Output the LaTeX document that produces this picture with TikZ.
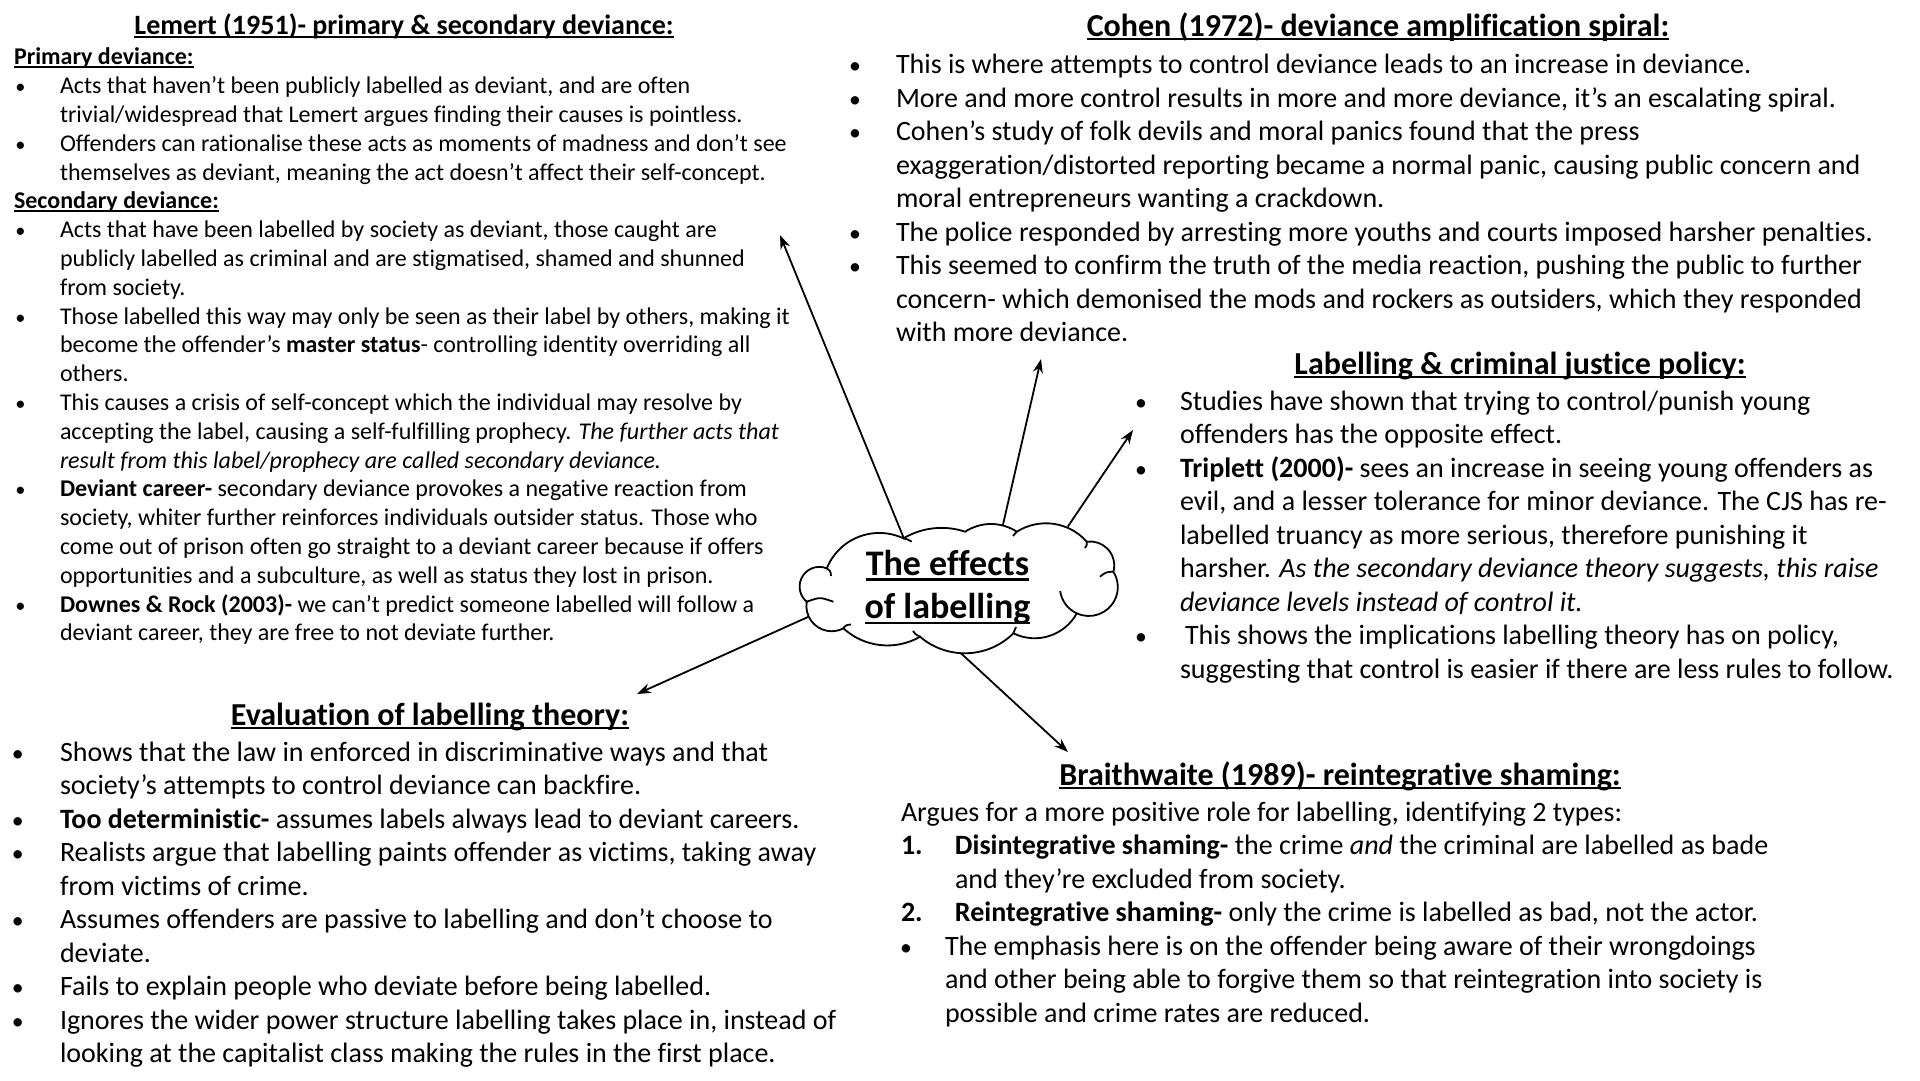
\documentclass[tikz,border=0pt]{standalone}
\usepackage{fontspec}
\usepackage{graphicx}
\setmainfont{Carlito}[Ligatures=CommonOff]
\usetikzlibrary{arrows.meta,calc}
\pgfdeclarelayer{cloudlayer}
\pgfdeclarelayer{textlayer}
\pgfsetlayers{main,cloudlayer,textlayer}
\newsavebox\ulbox
\newcommand\ulx[3]{\sbox\ulbox{#3}\rlap{\rule[-#1]{\wd\ulbox}{#2}}\usebox\ulbox}
\newlength\bind \newlength\bofs
\newcommand\B[1]{\makebox[\bind][l]{\hspace*{\bofs}\scalebox{0.85}{\textbullet}}#1}
\newcommand\C[1]{\hspace*{\bind}#1}
\newcommand\Nm[2]{\makebox[54pt][l]{\textbf{#1}}#2}
\tikzset{
  sec/.style={anchor=north west, inner sep=0pt, outer sep=0pt},
  ttl/.style={anchor=base, inner sep=0pt, font=\fontsize{32}{38}\selectfont\bfseries},
  smallbody/.style={font=\fontsize{24}{28.8}\selectfont},
  bigbody/.style={font=\fontsize{28}{33.5}\selectfont},
  arr/.style={-{Stealth[length=14pt,width=10pt]}, line width=1.8pt},
  cloudline/.style={line width=1.8pt, draw=black, fill=white},
  curl/.style={line width=1.8pt},
  ctext/.style={align=center, inner sep=0pt, font=\fontsize{36}{43.3}\selectfont\bfseries},
}
\begin{document}
\begin{tikzpicture}[x=1pt,y=-1pt]
\fill[white] (0,0) rectangle (1920,1080);
\path[use as bounding box] (0,0) rectangle (1920,1080);

% ---------- Lemert ----------
\node[ttl, font=\fontsize{28}{33}\selectfont\bfseries] (lemT) at (404,34)
  {\ulx{3.5pt}{1.8pt}{Lemert (1951)- primary \& secondary deviance:}};
\node[sec, smallbody] (lemert) at (14,44.8) {\setlength\bind{46pt}\setlength\bofs{1.5pt}%
\begin{tabular}{@{}l@{}}
\textbf{\ulx{3pt}{1.6pt}{Primary deviance:}}\\
\B{Acts that haven’t been publicly labelled as deviant, and are often}\\
\C{trivial/widespread that Lemert argues finding their causes is pointless.}\\
\B{Offenders can rationalise these acts as moments of madness and don’t see}\\
\C{themselves as deviant, meaning the act doesn’t affect their self-concept.}\\
\textbf{\ulx{3pt}{1.6pt}{Secondary deviance:}}\\
\B{Acts that have been labelled by society as deviant, those caught are}\\
\C{publicly labelled as criminal and are stigmatised, shamed and shunned}\\
\C{from society.}\\
\B{Those labelled this way may only be seen as their label by others, making it}\\
\C{become the offender’s \textbf{master status}- controlling identity overriding all}\\
\C{others.}\\
\B{This causes a crisis of self-concept which the individual may resolve by}\\
\C{accepting the label, causing a self-fulfilling prophecy. \textit{The further acts that}}\\
\C{\textit{result from this label/prophecy are called secondary deviance.}}\\
\B{\textbf{Deviant career-} secondary deviance provokes a negative reaction from}\\
\C{society, whiter further reinforces individuals outsider status. Those who}\\
\C{come out of prison often go straight to a deviant career because if offers}\\
\C{opportunities and a subculture, as well as status they lost in prison.}\\
\B{\textbf{Downes \& Rock (2003)-} we can’t predict someone labelled will follow a}\\
\C{deviant career, they are free to not deviate further.}
\end{tabular}};

% ---------- Cohen ----------
\node[ttl] (cohT) at (1378,36)
  {\ulx{3.5pt}{2pt}{Cohen (1972)- deviance amplification spiral:}};
\node[sec, bigbody] (cohen) at (855,50.5) {\setlength\bind{41pt}\setlength\bofs{-6pt}%
\begin{tabular}{@{}l@{}}
\B{This is where attempts to control deviance leads to an increase in deviance.}\\
\B{More and more control results in more and more deviance, it’s an escalating spiral.}\\
\B{Cohen’s study of folk devils and moral panics found that the press}\\
\C{exaggeration/distorted reporting became a normal panic, causing public concern and}\\
\C{moral entrepreneurs wanting a crackdown.}\\
\B{The police responded by arresting more youths and courts imposed harsher penalties.}\\
\B{This seemed to confirm the truth of the media reaction, pushing the public to further}\\
\C{concern- which demonised the mods and rockers as outsiders, which they responded}\\
\C{with more deviance.}
\end{tabular}};

% ---------- Labelling & CJ policy ----------
\node[ttl] (cjT) at (1520,374)
  {\ulx{3.5pt}{2pt}{Labelling \& criminal justice policy:}};
\node[sec, bigbody] (cjp) at (1139,386.7) {\setlength\bind{41pt}\setlength\bofs{-4pt}%
\begin{tabular}{@{}l@{}}
\B{Studies have shown that trying to control/punish young}\\
\C{offenders has the opposite effect.}\\
\B{\textbf{Triplett (2000)-} sees an increase in seeing young offenders as}\\
\C{evil, and a lesser tolerance for minor deviance. The CJS has re-}\\
\C{labelled truancy as more serious, therefore punishing it}\\
\C{harsher. \textit{As the secondary deviance theory suggests, this raise}}\\
\C{\textit{deviance levels instead of control it.}}\\
\B{\hspace*{5pt}This shows the implications labelling theory has on policy,}\\
\C{suggesting that control is easier if there are less rules to follow.}
\end{tabular}};

% ---------- Evaluation ----------
\node[ttl] (evT) at (430,725)
  {\ulx{3.5pt}{2pt}{Evaluation of labelling theory:}};
\node[sec, bigbody] (evalu) at (14,738) {\setlength\bind{46pt}\setlength\bofs{-2pt}%
\begin{tabular}{@{}l@{}}
\B{Shows that the law in enforced in discriminative ways and that}\\
\C{society’s attempts to control deviance can backfire.}\\
\B{\textbf{Too deterministic-} assumes labels always lead to deviant careers.}\\
\B{Realists argue that labelling paints offender as victims, taking away}\\
\C{from victims of crime.}\\
\B{Assumes offenders are passive to labelling and don’t choose to}\\
\C{deviate.}\\
\B{Fails to explain people who deviate before being labelled.}\\
\B{Ignores the wider power structure labelling takes place in, instead of}\\
\C{looking at the capitalist class making the rules in the first place.}
\end{tabular}};

% ---------- Braithwaite ----------
\node[ttl] (brT) at (1340,785)
  {\ulx{3.5pt}{2pt}{Braithwaite (1989)- reintegrative shaming:}};
\node[sec, bigbody] (braith) at (901,798) {\setlength\bind{44pt}\setlength\bofs{-1pt}%
\begin{tabular}{@{}l@{}}
Argues for a more positive role for labelling, identifying 2 types:\\
\Nm{1.}{\textbf{Disintegrative shaming-} the crime \textit{and} the criminal are labelled as bade}\\
\hspace*{54pt}and they’re excluded from society.\\
\Nm{2.}{\textbf{Reintegrative shaming-} only the crime is labelled as bad, not the actor.}\\
\B{The emphasis here is on the offender being aware of their wrongdoings}\\
\C{and other being able to forgive them so that reintegration into society is}\\
\C{possible and crime rates are reduced.}
\end{tabular}};

% ---------- Cloud text (base = baseline of last line) ----------
\begin{pgfonlayer}{textlayer}
\node[ctext, anchor=base] (cloud) at (947.5,618.3)
  {\ulx{6pt}{2.6pt}{The effects}\\\ulx{6pt}{2.6pt}{of labelling}};
\end{pgfonlayer}

% ---------- Arrows ----------
\coordinate (t1) at (780,235);
\coordinate (t2) at (1041,359);
\coordinate (t3) at (1133,430);
\coordinate (t4) at (637,694);
\coordinate (t5) at (1068,752);
\draw[arr] ($(cloud.base)+(-42.7,-77.6)$) -- (t1);
\draw[arr] ($(cloud.base)+(54.9,-91.1)$) -- (t2);
\draw[arr] ($(cloud.base)+(120.3,-91.7)$) -- (t3);
\draw[arr] ($(cloud.base)+(-138.9,-1.6)$) -- (t4);
\draw[arr] ($(cloud.base)+(11.3,33)$) -- (t5);

% ---------- Cloud outline ----------
\begin{pgfonlayer}{cloudlayer}
\path[cloudline] (826.7,568.3)
 arc[start angle=-68, end angle=-230.2, radius=19.7]
 arc[start angle=189.6, end angle=62.4, radius=25.3]
 arc[start angle=132.4, end angle=60.1, radius=65.4]
 arc[start angle=130.5, end angle=45.3, radius=69]
 arc[start angle=116.1, end angle=28.9, radius=48.2]
 arc[start angle=114.7, end angle=-32, radius=28.9]
 arc[start angle=15.2, end angle=-98.2, radius=24]
 arc[start angle=-41.5, end angle=-122.2, radius=54.6]
 arc[start angle=-56.8, end angle=-123.2, radius=47.2]
 arc[start angle=-71.6, end angle=-120.7, radius=74.7]
 arc[start angle=-64.8, end angle=-157.9, radius=56.7]
 -- cycle;
\draw[curl] (826.7,568.3) .. controls (830.5,571) .. (831,576);
\draw[curl] (806.7,601.7) .. controls (820,597) .. (833.3,601.7);
\draw[curl] (843.3,628.3) .. controls (846,625) .. (851,624.5);
\draw[curl] (920,636.7) .. controls (915,634) .. (913,631);
\draw[curl] (1013.3,633.3) .. controls (1014,630) .. (1016,627);
\draw[curl] (1076.7,613.3) arc[start angle=114.7, end angle=172, radius=28.9];
\draw[curl] (1113.3,571.7) .. controls (1106,572) .. (1100,576.7);
\draw[curl] (1086.7,541.7) .. controls (1087,545) .. (1085,548);
\draw[curl] (1016.7,531.7) .. controls (1015,534) .. (1013,536);
\draw[curl] (903.3,538.3) .. controls (907,539) .. (911.7,541.7);
\end{pgfonlayer}
\end{tikzpicture}
\end{document}
